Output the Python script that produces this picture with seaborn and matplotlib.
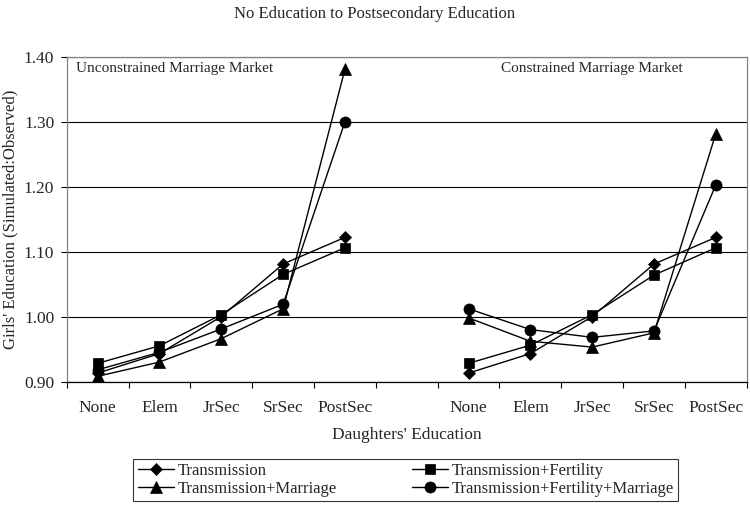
import numpy as np
import pandas as pd
import matplotlib
matplotlib.use('Agg')
import matplotlib.pyplot as plt
import seaborn as sns

# categories (left panel, blank gap, right panel)
levels = ['None', 'Elem', 'JrSec', 'SrSec', 'PostSec']

# Unconstrained marriage market
unc_trans = [0.913, 0.943, 1.000, 1.081, 1.122]
unc_trans_fert = [0.928, 0.955, 1.003, 1.065, 1.106]
unc_trans_marr = [0.908, 0.930, 0.966, 1.012, 1.381]
unc_trans_fert_marr = [0.918, 0.945, 0.981, 1.019, 1.300]

# Constrained marriage market
con_trans = [0.913, 0.943, 1.000, 1.081, 1.122]
con_trans_fert = [0.928, 0.956, 1.003, 1.064, 1.106]
con_trans_marr = [0.998, 0.962, 0.953, 0.975, 1.282]
con_trans_fert_marr = [1.012, 0.980, 0.968, 0.978, 1.203]

series_names = ['Transmission', 'Transmission+Fertility',
                'Transmission+Marriage', 'Transmission+Fertility+Marriage']
unc = [unc_trans, unc_trans_fert, unc_trans_marr, unc_trans_fert_marr]
con = [con_trans, con_trans_fert, con_trans_marr, con_trans_fert_marr]
markers = ['D', 's', '^', 'o']
msizes = [6.5, 7.5, 8, 8]

sns.set_theme(style='white')
plt.rcParams['font.family'] = ['Liberation Serif', 'DejaVu Serif']

fig = plt.figure(figsize=(7.5, 5.08), dpi=100)
ax = fig.add_axes([0.089, 0.249, 0.9067, 0.639])

left_pos = np.arange(5)
right_pos = np.arange(6, 11)

handles = {}
for name, lv, rv, mk, ms in zip(series_names, unc, con, markers, msizes):
    for pos, vals in ((left_pos, lv), (right_pos, rv)):
        df = pd.DataFrame({'x': pos, 'y': vals})
        sns.lineplot(data=df, x='x', y='y', ax=ax, color='black', linewidth=1,
                     marker=mk, markersize=ms, markeredgecolor='black',
                     markerfacecolor='black', markeredgewidth=0.5, sort=False)
    handles[name] = ax.lines[-1]

ax.set_xlim(-0.5, 10.5)
ax.set_ylim(0.9, 1.4)
ax.set_yticks([0.9, 1.0, 1.1, 1.2, 1.3, 1.4])
ax.set_yticklabels(['0.90', '1.00', '1.10', '1.20', '1.30', '1.40'], fontsize=12.5)
ax.yaxis.grid(True, color='black', linewidth=0.8)
ax.set_axisbelow(True)

# tick marks at category boundaries, labels at centres
ax.set_xticks(np.arange(-0.5, 11, 1))
ax.set_xticklabels([])
ax.set_xticks(np.arange(11), minor=True)
ax.set_xticklabels(levels + [''] + levels, minor=True, fontsize=12.5)
ax.tick_params(axis='x', which='major', length=4, width=0.8, color='black', direction='out', bottom=True)
ax.tick_params(axis='x', which='minor', length=0, pad=13)
ax.tick_params(axis='y', length=4, width=0.8, color='black', direction='out', left=True, pad=5)

for side in ['left', 'right', 'top']:
    ax.spines[side].set_color('#808080')
    ax.spines[side].set_linewidth(0.9)
ax.spines['bottom'].set_color('black')
ax.spines['bottom'].set_linewidth(0.9)

ax.set_xlabel("Daughters' Education", fontsize=12.5, labelpad=8)
ax.set_ylabel("Girls' Education (Simulated:Observed)", fontsize=12)
ax.yaxis.set_label_coords(-0.071, 0.5)

ax.text(0.013, 0.965, 'Unconstrained Marriage Market', transform=ax.transAxes,
        fontsize=11, va='center', ha='left')
ax.text(0.638, 0.965, 'Constrained Marriage Market', transform=ax.transAxes,
        fontsize=11, va='center', ha='left')

fig.suptitle('No Education to Postsecondary Education', fontsize=12, x=0.5, y=0.972, va='center')

order = ['Transmission', 'Transmission+Marriage',
         'Transmission+Fertility', 'Transmission+Fertility+Marriage']
leg = fig.legend([handles[n] for n in order], order, loc='center', ncol=2,
                 bbox_to_anchor=(0.541, 0.055), fontsize=12, frameon=True,
                 fancybox=False, edgecolor='black', handlelength=2.2,
                 handletextpad=0.2, columnspacing=4.5, borderpad=0.25,
                 labelspacing=0.15, borderaxespad=0)
leg.get_frame().set_linewidth(0.8)

fig.savefig('out.png', dpi=100)
